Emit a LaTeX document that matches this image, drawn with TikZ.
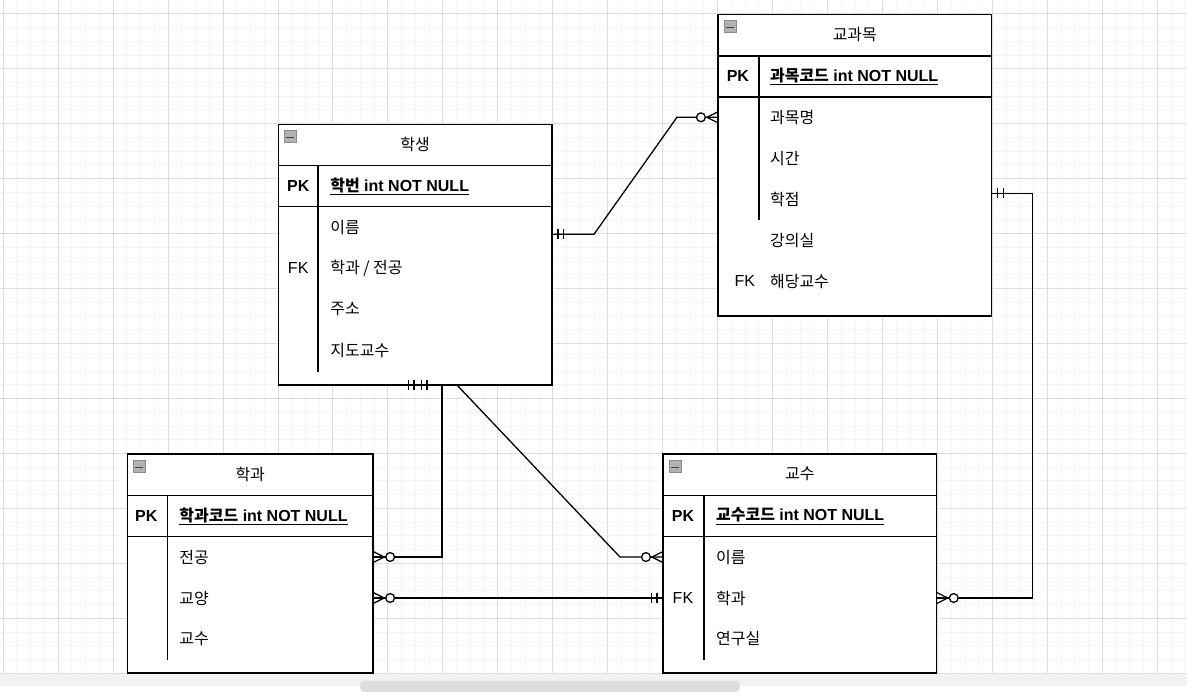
\documentclass[tikz,border=0pt]{standalone}
\usepackage{fontspec}
\setmainfont{Liberation Sans}
\newfontfamily\kr{Noto Sans CJK KR}
\usetikzlibrary{calc}

\begin{document}
\begin{tikzpicture}[x=1pt, y=-1pt, font=\fontsize{16}{19}\selectfont]

        % Setup the styles
        \tikzset{tbl/.style={draw, line width=1.4pt, fill=white,
                             anchor=north west, inner sep=0pt, outer sep=0pt},
                 tblline/.style={line width=1.4pt},
                 rowtxt/.style={anchor=west, inner sep=0pt},
                 keytxt/.style={font=\fontsize{16}{19}\selectfont\bfseries},
                 conn/.style={line width=1.3pt},
                 minorgrid/.style={draw=black!4, line width=0.8pt},
                 majorgrid/.style={draw=black!13, line width=0.8pt},
                 minusbox/.style={draw=black!45, fill=black!30, line width=0.8pt,
                                  minimum size=12pt, inner sep=0pt},
                 onemark/.pic={\draw[conn] (6,-5) -- (6,5) (11.5,-5) -- (11.5,5);},
                 manymark/.pic={\draw[conn] (0,-5.5) -- (11,0) -- (0,5.5);
                                \draw[conn, fill=white] (17,0) circle[radius=4.4];}}

        % Background and grid
        \fill[black!5] (0,0) rectangle (1187,686);
        \fill[white] (0,0) rectangle (1187,673.5);
        \fill[black!13, rounded corners=4pt] (360,681) rectangle (740,692);
        \foreach \i in {0,...,86}
            \draw[minorgrid] ({2.7+13.75*\i},0) -- ({2.7+13.75*\i},673.5);
        \foreach \j in {0,...,48}
            \draw[minorgrid] (0,{13.3+13.75*\j}) -- (1187,{13.3+13.75*\j});
        \foreach \i in {0,...,21}
            \draw[majorgrid] ({2.7+55*\i},0) -- ({2.7+55*\i},673.5);
        \foreach \j in {0,...,12}
            \draw[majorgrid] (0,{13.3+55*\j}) -- (1187,{13.3+55*\j});
        \useasboundingbox (0,0) rectangle (1187,686);

        % Draw the tables
        \node[tbl, minimum width=274pt, minimum height=261pt] at (278,124) (stu) {};
        \node[tbl, minimum width=274pt, minimum height=302pt] at (718,14)  (sub) {};
        \node[tbl, minimum width=246pt, minimum height=219pt] at (127,454) (dep) {};
        \node[tbl, minimum width=274pt, minimum height=219pt] at (663,454) (pro) {};

        % Header and key rows
        \foreach \t/\d/\e in {stu/40/248, sub/41/206, dep/40/206, pro/41/206} {
            \draw[tblline] ($(\t.north west)+(0,41.5)$) -- ($(\t.north east)+(0,41.5)$);
            \draw[tblline] ($(\t.north west)+(0,82.5)$) -- ($(\t.north east)+(0,82.5)$);
            \draw[tblline] ($(\t.north west)+(\d,41.5)$) -- ($(\t.north west)+(\d,\e)$);
            \node[minusbox] at ($(\t.north west)+(12,12.5)$) (\t-min) {};
            \draw[black!75, line width=1pt] ($(\t.north west)+(8,13)$) -- ($(\t.north west)+(16,13)$);
        }

        % 학생
        \node at ($(stu.north)+(0,20)$) (stu-title) {\kr 학생};
        \node[keytxt] at ($(stu.north west)+(20,62)$) (stu-pk) {PK};
        \node[keytxt, rowtxt] at ($(stu.north west)+(52,62)$) (stu-key)
            {\underline{{\kr 학번} int NOT NULL}};
        \foreach \t [count=\i] in {이름, 학과 / 전공, 주소, 지도교수}
            \node[rowtxt] at ($(stu.north west)+(52,62+41*\i)$) (stu-r\i) {\kr \t};
        \node at ($(stu.north west)+(20,144)$) (stu-fk) {FK};

        % 교과목
        \node at ($(sub.north)+(0,20)$) (sub-title) {\kr 교과목};
        \node[keytxt] at ($(sub.north west)+(20,62)$) (sub-pk) {PK};
        \node[keytxt, rowtxt] at ($(sub.north west)+(52,62)$) (sub-key)
            {\underline{{\kr 과목코드} int NOT NULL}};
        \foreach \t [count=\i] in {과목명, 시간, 학점, 강의실, 해당교수}
            \node[rowtxt] at ($(sub.north west)+(52,62+41*\i)$) (sub-r\i) {\kr \t};
        \node at ($(sub.north west)+(27,267)$) (sub-fk) {FK};

        % 학과
        \node at ($(dep.north)+(0,20)$) (dep-title) {\kr 학과};
        \node[keytxt] at ($(dep.north west)+(19,62)$) (dep-pk) {PK};
        \node[keytxt, rowtxt] at ($(dep.north west)+(52,62)$) (dep-key)
            {\underline{{\kr 학과코드} int NOT NULL}};
        \foreach \t [count=\i] in {전공, 교양, 교수}
            \node[rowtxt] at ($(dep.north west)+(52,62+41*\i)$) (dep-r\i) {\kr \t};

        % 교수
        \node at ($(pro.north)+(0,20)$) (pro-title) {\kr 교수};
        \node[keytxt] at ($(pro.north west)+(20,62)$) (pro-pk) {PK};
        \node[keytxt, rowtxt] at ($(pro.north west)+(53,62)$) (pro-key)
            {\underline{{\kr 교수코드} int NOT NULL}};
        \foreach \t [count=\i] in {이름, 학과, 연구실}
            \node[rowtxt] at ($(pro.north west)+(53,62+41*\i)$) (pro-r\i) {\kr \t};
        \node at ($(pro.north west)+(20,144)$) (pro-fk) {FK};

        % Connect the tables
        \draw[conn] ($(stu.north east)+(0,110)$) -- ++(42,0)
            -- ($(sub.north west)+(-41,103)$) -- ($(sub.north west)+(0,103)$);
        \draw[conn] ($(stu.south)+(27,0)$) -- ($(stu.south)+(27,172)$)
            -- ($(dep.north east)+(0,103)$);
        \draw[conn] ($(stu.south)+(-15,0)$) -- ($(stu.south)+(42,0)$)
            -- ($(pro.north west)+(-43,103)$) -- ($(pro.north west)+(0,103)$);
        \draw[conn] ($(dep.north east)+(0,144)$) -- ($(pro.north west)+(0,144)$);
        \draw[conn] ($(sub.north east)+(0,179)$) -- ++(41,0)
            -- ($(pro.north east)+(96,144)$) -- ($(pro.north east)+(0,144)$);

        % Relation marks
        \pic at ($(stu.north east)+(0,110)$) {onemark};
        \pic[rotate=180] at ($(sub.north west)+(0,103)$) {manymark};
        \pic[rotate=180] at ($(stu.south)+(18,0)$) {onemark};
        \pic[rotate=180] at ($(stu.south)+(5,0)$) {onemark};
        \pic at ($(dep.north east)+(0,103)$) {manymark};
        \pic[rotate=180] at ($(pro.north west)+(0,103)$) {manymark};
        \pic at ($(dep.north east)+(0,144)$) {manymark};
        \pic[rotate=180] at ($(pro.north west)+(0,144)$) {onemark};
        \pic at ($(sub.north east)+(0,179)$) {onemark};
        \pic at ($(pro.north east)+(0,144)$) {manymark};
\end{tikzpicture}
\end{document}
